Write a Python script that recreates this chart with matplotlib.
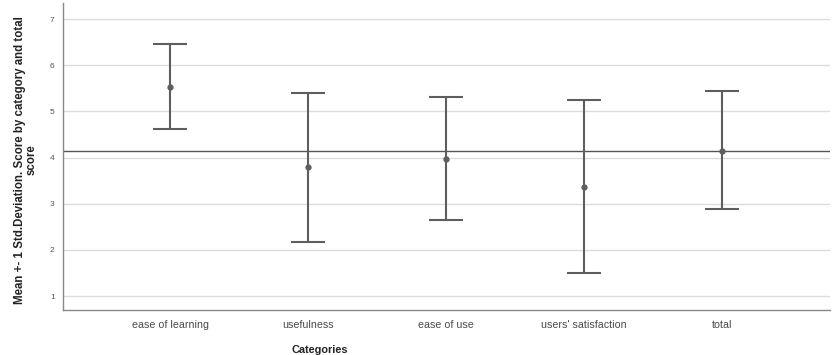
import numpy as np
import matplotlib.pyplot as plt

plt.rcParams['font.family'] = ['Liberation Sans', 'DejaVu Sans']

# mean +- 1 SD per category
categories = ["ease of learning", "usefulness", "ease of use", "users' satisfaction", "total"]
means = [5.54, 3.79, 3.98, 3.37, 4.15]
upper = [6.46, 5.40, 5.32, 5.25, 5.45]
lower = [4.62, 2.17, 2.65, 1.50, 2.88]
ref_value = 4.15
yticks = [1, 2, 3, 4, 5, 6, 7]

means = np.array(means)
err = [means - np.array(lower), np.array(upper) - means]
x = np.arange(len(categories))

fig = plt.figure(figsize=(8.32, 3.55), dpi=100)
ax = fig.add_axes([63 / 832, 45 / 355, 767 / 832, 307 / 355])

ax.set_axisbelow(True)
ax.grid(axis='y', color='#dcdcdc', lw=1.0)
ax.axhline(ref_value, color='#555555', lw=1.0, zorder=1)

ax.errorbar(x, means, yerr=err, fmt='o', ms=3.5, color='#5e5e5e',
            ecolor='#5e5e5e', elinewidth=1.5, capsize=12, capthick=1.5, zorder=3)

ax.set_xlim(-0.775, 4.78)
ax.set_ylim(0.70, 7.35)
ax.set_yticks(yticks)
ax.set_xticks(x)
ax.set_xticklabels(categories)
ax.tick_params(axis='y', length=0, labelsize=6, labelcolor='#555555', pad=6)
ax.tick_params(axis='x', length=0, labelsize=7.7, labelcolor='#4a4a4a', pad=7)

for side in ['top', 'right']:
    ax.spines[side].set_visible(False)
for side in ['left', 'bottom']:
    ax.spines[side].set_color('#888888')
    ax.spines[side].set_linewidth(1.0)

ax.set_xlabel('Categories', fontsize=7.8, fontweight='bold', color='#222222')
ax.xaxis.set_label_coords(0.335, -0.115)
ax.set_ylabel('Mean +- 1 Std.Deviation. Score by category and total\nscore',
              fontsize=8.3, fontweight='bold', color='#222222', linespacing=1.0)
ax.yaxis.set_label_coords(-0.033, 0.49)

fig.savefig('out.png', dpi=100)
